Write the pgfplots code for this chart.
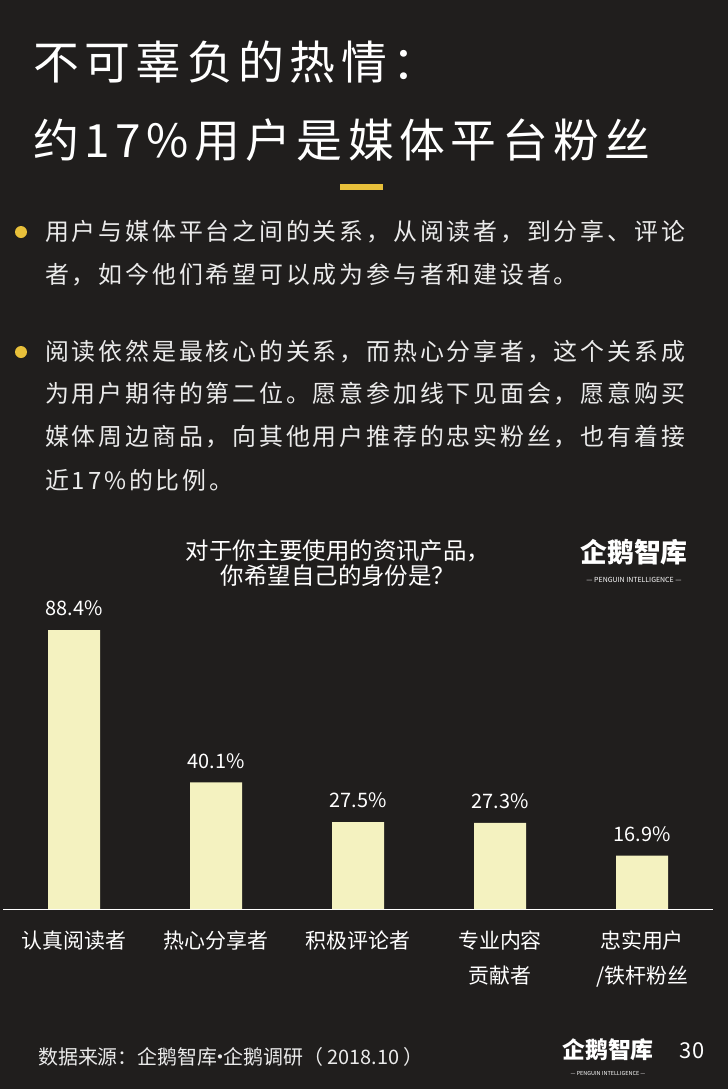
\documentclass[border=0pt]{standalone}
\usepackage{pgfplots}
\pgfplotsset{compat=1.18}
\usepackage{fontspec}
\setmainfont{Noto Sans CJK SC}
\newfontfamily\titlefont[LetterSpace=12]{Noto Sans CJK SC}
\newfontfamily\bodyfont[LetterSpace=12]{Noto Sans CJK SC}
\definecolor{bg}{RGB}{32,30,29}
\definecolor{barc}{RGB}{244,242,192}
\definecolor{gold}{RGB}{232,192,58}

\begin{document}
\begin{tikzpicture}[x=1bp,y=1bp]
% background, 728 x 1089 px
\fill[bg] (0,0) rectangle (728,-1089);

% page title
\tikzset{ttl/.style={anchor=west, text=white, inner sep=0pt, font=\titlefont\fontsize{46}{50}\selectfont}}
\node[ttl] at (33,-62) {不可辜负的热情：};
\node[ttl] at (33,-140) {约17\%用户是媒体平台粉丝};
\fill[gold] (340,-184) rectangle (383,-190);

% bullet text
\tikzset{body/.style={anchor=west, text=white!92!black, inner sep=0pt, font=\bodyfont\fontsize{24}{28}\selectfont}}
\fill[gold] (21,-232) circle (6);
\node[body] at (45,-232) {用户与媒体平台之间的关系，从阅读者，到分享、评论};
\node[body] at (45,-275) {者，如今他们希望可以成为参与者和建设者。};
\fill[gold] (21,-352) circle (6);
\node[body] at (45,-352) {阅读依然是最核心的关系，而热心分享者，这个关系成};
\node[body] at (45,-394) {为用户期待的第二位。愿意参加线下见面会，愿意购买};
\node[body] at (45,-437) {媒体周边商品，向其他用户推荐的忠实粉丝，也有着接};
\node[body] at (45,-480) {近17\%的比例。};

% chart title and logo
\node[align=center, text=white, inner sep=0pt, font=\fontsize{23.5}{25}\selectfont] at (338,-563)
  {对于你主要使用的资讯产品，\\你希望自己的身份是？};
\node[text=white, inner sep=0pt, font=\bfseries\fontsize{27}{30}\selectfont] at (634,-552) {企鹅智库};
\node[text=white, inner sep=0pt, font=\fontsize{7}{8}\selectfont] at (634,-580) {— PENGUIN INTELLIGENCE —};

\begin{axis}[
  at={(3bp,-909bp)}, anchor=south west,
  scale only axis, width=710bp, height=315.6bp,
  xmin=-0.5, xmax=4.5, ymin=0, ymax=100,
  axis x line=bottom, hide y axis,
  axis line style={white, line width=1bp, -},
  xtick={0,1,2,3,4},
  xticklabels={认真阅读者, 热心分享者, 积极评论者, {专业内容\\贡献者}, {忠实用户\\/铁杆粉丝}},
  xtick style={draw=none}, major tick length=0pt,
  xticklabel style={align=center, text=white, inner sep=0pt, yshift=-22bp, font=\fontsize{21}{35}\selectfont},
  ybar, bar width=52bp,
  /pgf/number format/assume math mode=true,
  nodes near coords={\pgfmathprintnumber[fixed,precision=1,fixed zerofill]{\pgfplotspointmeta}\%},
  nodes near coords style={text=white, inner sep=0pt, yshift=14bp, font=\fontsize{20}{22}\selectfont},
  clip=false,
]
\addplot[fill=barc, draw=none] coordinates {(0,88.4) (1,40.1) (2,27.5) (3,27.3) (4,16.9)};
\end{axis}

% footer
\node[anchor=west, text=white!92!black, inner sep=0pt, font=\fontsize{20}{22}\selectfont] at (38,-1057)
  {数据来源：企鹅智库\kern-0.35em·\kern-0.35em企鹅调研（ 2018.10 ）};
\node[text=white, inner sep=0pt, font=\bfseries\fontsize{23}{25}\selectfont] at (608,-1050) {企鹅智库};
\node[text=white, inner sep=0pt, font=\fontsize{5.5}{6}\selectfont] at (608,-1073) {— PENGUIN INTELLIGENCE —};
\node[text=white, inner sep=0pt, font=\fontsize{22}{24}\selectfont] at (692,-1051) {30};
\end{tikzpicture}
\end{document}
